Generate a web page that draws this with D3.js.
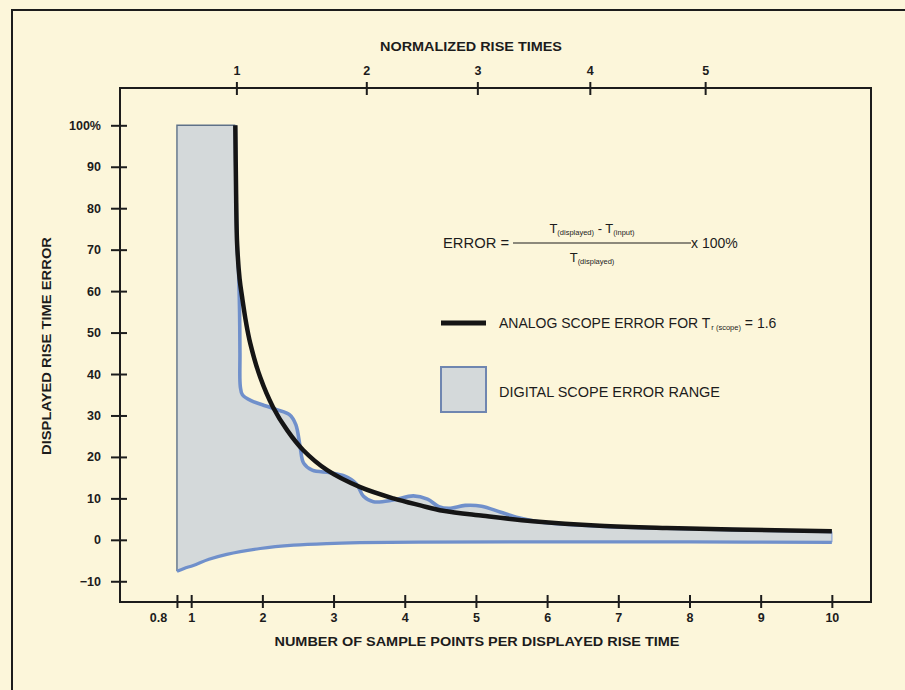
<!DOCTYPE html>
<html>
<head>
<meta charset="utf-8">
<script src="https://cdn.jsdelivr.net/npm/d3@7"></script>
<style>
  html, body { margin: 0; padding: 0; background: #fcf6da; }
  svg { display: block; }
  text { font-family: "Liberation Sans", Arial, Helvetica, sans-serif; fill: #1c1c1c; }
</style>
</head>
<body>
<svg id="chart" width="905" height="690"></svg>
<script>
// Axis ticks
const samplePointTicks = [0.8, 1, 2, 3, 4, 5, 6, 7, 8, 9, 10];
const errorTicks = [-10, 0, 10, 20, 30, 40, 50, 60, 70, 80, 90, 100];
const normRiseTicks = [1, 2, 3, 4, 5];
// sample points per displayed rise time at which each normalized rise time falls
const normRiseAt = [1.635, 3.46, 5.02, 6.60, 8.22];

// Analog scope error, Tr(scope) = 1.6
const analogX = [1.62, 1.63, 1.645, 1.68, 1.715, 1.77, 1.83, 1.97, 2.15, 2.35, 2.575, 2.91, 3.375, 3.84, 4.22, 4.54, 5.1, 5.8, 6.74, 7.68, 8.6, 10];
const analogY = [100, 85, 71.5, 63, 58.6, 52.5, 47.4, 39.2, 32.0, 26.4, 21.6, 16.8, 12.7, 10.0, 8.3, 7.0, 5.8, 4.5, 3.4, 2.85, 2.5, 2.05];

// Digital scope error range: upper and lower bounds
const digitalUpperX = [1.62, 1.63, 1.645, 1.665, 1.68, 1.685, 1.69, 1.72, 1.85, 2.0, 2.2, 2.38, 2.47, 2.53, 2.58, 2.7, 2.95, 3.15, 3.32, 3.42, 3.56, 3.84, 4.12, 4.32, 4.48, 4.62, 4.85, 5.08, 5.34, 5.6, 5.9, 6.74, 7.68, 8.6, 10];
const digitalUpperY = [100, 85, 71.5, 65, 55, 45, 37, 35, 33.5, 32.6, 31.4, 30.2, 27.8, 22.5, 18.5, 16.8, 16.2, 15.4, 13.5, 10.5, 9.2, 9.6, 10.6, 9.8, 8.0, 7.6, 8.3, 8.1, 6.7, 5.3, 4.3, 3.3, 2.8, 2.45, 2.0];
const digitalLowerX = [0.8, 0.9, 1.03, 1.25, 1.5, 1.97, 2.44, 2.91, 3.37, 4.2, 6, 8, 10];
const digitalLowerY = [-7.6, -6.9, -6.2, -4.7, -3.5, -2.1, -1.3, -0.9, -0.7, -0.55, -0.5, -0.5, -0.6];
const digitalStart = 0.8;
const digitalTop = 100;

const svg = d3.select("#chart");
const box = { left: 120, top: 88, right: 871, bottom: 602 };

const x = d3.scaleLinear().domain([0, 10.55]).range([box.left, box.right]);
const y = d3.scaleLinear().domain([-15, 109]).range([box.bottom, box.top]);
const xTop = d3.scaleLinear().domain(normRiseTicks).range(normRiseAt.map(v => x(v)));

const ink = "#1c1c1c";
const blue = "#7090cb";
const fillGrey = "#d4d9da";
const tickFont = 12.5;

// outer frame
svg.append("path")
  .attr("d", "M12,690 L12,10 L905,10")
  .attr("fill", "none").attr("stroke", ink).attr("stroke-width", 2);

// plot box
svg.append("rect")
  .attr("x", box.left).attr("y", box.top)
  .attr("width", box.right - box.left).attr("height", box.bottom - box.top)
  .attr("fill", "none").attr("stroke", ink).attr("stroke-width", 2);

const zip = (xs, ys) => xs.map((v, i) => [v, ys[i]]);
const analog = zip(analogX, analogY);
const upper = zip(digitalUpperX, digitalUpperY);
const lower = zip(digitalLowerX, digitalLowerY);

const curve = d3.line().x(d => x(d[0])).y(d => y(d[1])).curve(d3.curveCatmullRom.alpha(0.5));

// digital range fill
const upperPath = curve(upper);
const lowerRevPath = curve(lower.slice().reverse());
const fillD = `M${x(digitalStart)},${y(lower[0][1])} L${x(digitalStart)},${y(digitalTop)} L` +
  upperPath.slice(1) + " L" + lowerRevPath.slice(1) + " Z";
svg.append("path").attr("d", fillD).attr("fill", fillGrey).attr("stroke", "none");

// left and top edges of the range
svg.append("path")
  .attr("d", `M${x(digitalStart)},${y(lower[0][1])} L${x(digitalStart)},${y(digitalTop)} L${x(upper[0][0])},${y(digitalTop)}`)
  .attr("fill", "none").attr("stroke", "#5e7188").attr("stroke-width", 1.4);

// right end of the range
svg.append("line")
  .attr("x1", x(10)).attr("x2", x(10))
  .attr("y1", y(digitalUpperY[digitalUpperY.length - 1])).attr("y2", y(digitalLowerY[digitalLowerY.length - 1]))
  .attr("stroke", "#9fb4da").attr("stroke-width", 1.5);

// digital bounds
svg.append("path").attr("d", curve(lower))
  .attr("fill", "none").attr("stroke", blue).attr("stroke-width", 3.2);
svg.append("path").attr("d", upperPath)
  .attr("fill", "none").attr("stroke", blue).attr("stroke-width", 3.6).attr("stroke-linejoin", "round");

// analog error curve
svg.append("path").attr("d", curve(analog))
  .attr("fill", "none").attr("stroke", "#151515").attr("stroke-width", 4.5).attr("stroke-linecap", "butt");

// left axis
const yAxis = svg.append("g")
  .attr("transform", `translate(${box.left},0)`)
  .call(d3.axisLeft(y).tickValues(errorTicks).tickSize(9).tickPadding(10)
    .tickFormat(d => d === 100 ? "100%" : (d < 0 ? "\u2212" + Math.abs(d) : d)));
yAxis.select(".domain").remove();
yAxis.selectAll(".tick line").attr("x1", -9).attr("x2", 7).attr("stroke", ink).attr("stroke-width", 2);
yAxis.selectAll(".tick text")
  .attr("font-size", tickFont).attr("font-weight", "bold").attr("fill", ink)
  .style("font-family", '"Liberation Sans", Arial, sans-serif');

// bottom axis
const xAxis = svg.append("g")
  .attr("transform", `translate(0,${box.bottom})`)
  .call(d3.axisBottom(x).tickValues(samplePointTicks).tickSize(6).tickPadding(5)
    .tickFormat(d => d === 0.8 ? "0.8" : d));
xAxis.select(".domain").remove();
xAxis.selectAll(".tick line").attr("y1", -7).attr("y2", 6).attr("stroke", ink).attr("stroke-width", 2);
xAxis.selectAll(".tick text")
  .attr("font-size", tickFont).attr("font-weight", "bold").attr("fill", ink)
  .attr("x", d => d === 0.8 ? -19 : 0)
  .style("font-family", '"Liberation Sans", Arial, sans-serif');

// top axis
const topAxis = svg.append("g")
  .attr("transform", `translate(0,${box.top})`)
  .call(d3.axisTop(xTop).tickValues(normRiseTicks).tickSize(6).tickPadding(7).tickFormat(d3.format("d")));
topAxis.select(".domain").remove();
topAxis.selectAll(".tick line").attr("y1", -6).attr("y2", 7).attr("stroke", ink).attr("stroke-width", 2);
topAxis.selectAll(".tick text")
  .attr("font-size", tickFont).attr("font-weight", "bold").attr("fill", ink)
  .style("font-family", '"Liberation Sans", Arial, sans-serif');

// axis titles
svg.append("text").text("NORMALIZED RISE TIMES")
  .attr("x", 471).attr("y", 51).attr("text-anchor", "middle")
  .attr("font-size", 12.5).attr("font-weight", "bold")
  .attr("textLength", 182).attr("lengthAdjust", "spacingAndGlyphs");
svg.append("text").text("NUMBER OF SAMPLE POINTS PER DISPLAYED RISE TIME")
  .attr("x", 477).attr("y", 646).attr("text-anchor", "middle")
  .attr("font-size", 12.5).attr("font-weight", "bold")
  .attr("textLength", 405).attr("lengthAdjust", "spacingAndGlyphs");
svg.append("text").text("DISPLAYED RISE TIME ERROR")
  .attr("transform", "translate(51,346) rotate(-90)").attr("text-anchor", "middle")
  .attr("font-size", 12.5).attr("font-weight", "bold")
  .attr("textLength", 218).attr("lengthAdjust", "spacingAndGlyphs");

// error formula
const fx = 592;
svg.append("text").text("ERROR =").attr("x", 443).attr("y", 248).attr("font-size", 14)
  .attr("textLength", 66).attr("lengthAdjust", "spacingAndGlyphs");
svg.append("line").attr("x1", 513).attr("x2", 691).attr("y1", 243).attr("y2", 243)
  .attr("stroke", ink).attr("stroke-width", 1);
svg.append("text").text("x 100%").attr("x", 691).attr("y", 248).attr("font-size", 14);
const num = svg.append("text").attr("x", fx).attr("y", 233).attr("text-anchor", "middle").attr("font-size", 13);
num.append("tspan").text("T").attr("fill", ink);
num.append("tspan").text("(displayed)").attr("font-size", 7.5).attr("dy", 2).attr("fill", ink);
num.append("tspan").text(" - T").attr("dy", -2).attr("fill", ink);
num.append("tspan").text("(input)").attr("font-size", 7.5).attr("dy", 2).attr("fill", ink);
const den = svg.append("text").attr("x", fx).attr("y", 262).attr("text-anchor", "middle").attr("font-size", 13);
den.append("tspan").text("T").attr("fill", ink);
den.append("tspan").text("(displayed)").attr("font-size", 7.5).attr("dy", 2).attr("fill", ink);

// legend
svg.append("line").attr("x1", 441).attr("x2", 486).attr("y1", 323).attr("y2", 323)
  .attr("stroke", "#151515").attr("stroke-width", 5);
const lg = svg.append("text").attr("x", 499).attr("y", 328).attr("font-size", 14);
lg.append("tspan").text("ANALOG SCOPE ERROR FOR T").attr("fill", ink);
lg.append("tspan").text("r (scope)").attr("font-size", 7.5).attr("dy", 2).attr("dx", 1).attr("fill", ink);
lg.append("tspan").text(" = 1.6").attr("dy", -2).attr("fill", ink);

svg.append("rect").attr("x", 441).attr("y", 367).attr("width", 45).attr("height", 45)
  .attr("fill", fillGrey).attr("stroke", "#6f86b0").attr("stroke-width", 2);
svg.append("text").text("DIGITAL SCOPE ERROR RANGE")
  .attr("x", 499).attr("y", 397).attr("font-size", 14)
  .attr("textLength", 221).attr("lengthAdjust", "spacingAndGlyphs");
</script>
</body>
</html>
